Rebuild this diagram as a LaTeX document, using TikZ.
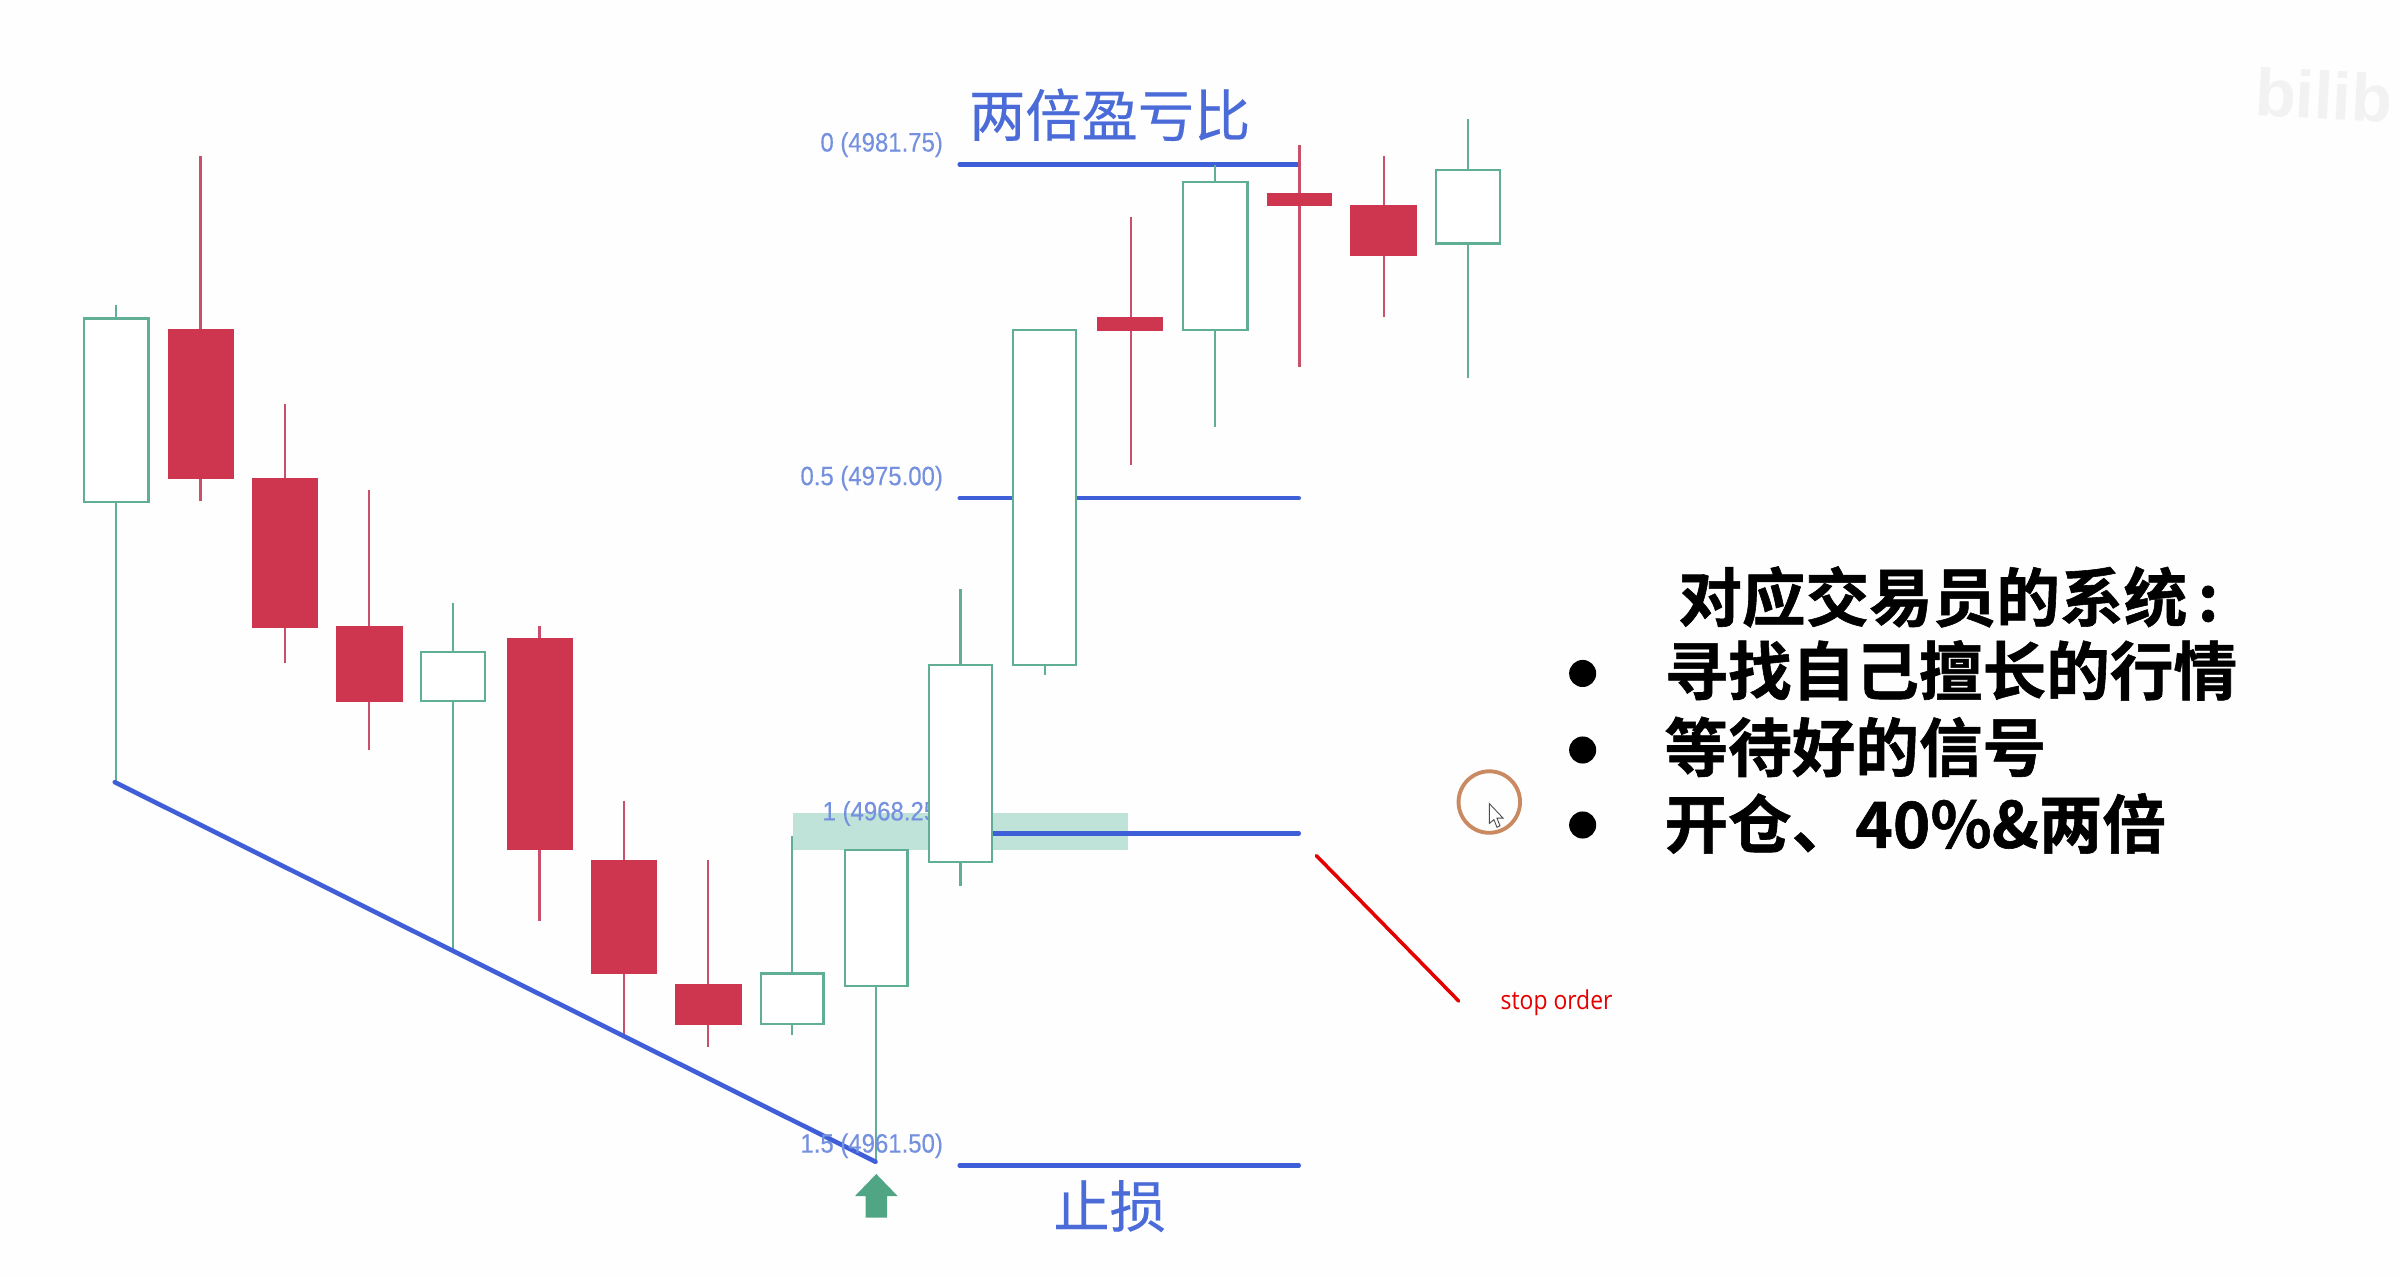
\documentclass[tikz,border=0pt]{standalone}
\usepackage{fontspec}
\setmainfont{Liberation Sans}
\newfontfamily\cjk[FakeBold=0.4]{Noto Sans CJK SC}
\newfontfamily\cjkb[FakeBold=0.9]{Noto Sans CJK SC Bold}
\newfontfamily\stopfont[FakeStretch=0.88]{Open Sans}
\newfontfamily\labfont[FakeStretch=0.9,FakeBold=0.2]{Liberation Sans}
\definecolor{upc}{HTML}{5FAE95}
\definecolor{dnc}{HTML}{CE364F}
\definecolor{wickr}{HTML}{C9506A}
\definecolor{fibblue}{HTML}{3F5FD8}
\definecolor{lab}{HTML}{7490DF}
\definecolor{zone}{HTML}{BFE3D9}
\definecolor{arrowg}{HTML}{4FA584}
\definecolor{ring}{HTML}{C98A62}
\definecolor{ttl}{HTML}{4A6BD8}
\newcommand{\upcandle}[7]{%
  \draw[wickup] (#1,#6) -- (#1,#7);
  \draw[bodyup] (#2,#4) rectangle (#3,#5);}
\newcommand{\dncandle}[7]{%
  \draw[wickdn] (#1,#6) -- (#1,#7);
  \fill[dnc] (#2,#4) rectangle (#3,#5);}
\tikzset{
  wickup/.style={upc,line width=0.62pt},
  bodyup/.style={draw=upc,fill=white,line width=0.68pt},
  wickdn/.style={wickr,line width=0.62pt},
  fibline/.style={fibblue,line width=1.3pt,line cap=round},
  fiblabel/.style={text=lab,font=\labfont\fontsize{7.57}{9}\selectfont,inner sep=0pt},
  bigtitle/.style={text=ttl,font=\cjk\fontsize{16}{18}\selectfont,inner sep=0pt},
  sysline/.style={anchor=west,text=black,font=\cjkb\fontsize{18.1}{20}\selectfont,inner sep=0pt},
  blt/.style={circle,fill=black,minimum width=7.7pt,inner sep=0pt}
}
\begin{document}
\begin{tikzpicture}[x=0.015306cm,y=-0.0153cm]
\useasboundingbox (0,0) rectangle (1568,834);
\clip (0,0) rectangle (1568,834);
\fill[white!99.6!black] (0,0) rectangle (1568,834);
% watermark
\node[anchor=west,text=black!5,font=\bfseries\fontsize{19}{20}\selectfont,inner sep=0pt,rotate=-3] (wm) at (1473,60) {bilib};
% zone
\fill[zone] (518,531) rectangle (737,555.5);
% fib lines
\coordinate (f0a) at (627,107.5); \coordinate (f0b) at (848.5,107.5);
\coordinate (f5a) at (627,325.5); \coordinate (f5b) at (848.5,325.5);
\coordinate (f1a) at (640,544.5); \coordinate (f1b) at (848.5,544.5);
\coordinate (f15a) at (627,761.5); \coordinate (f15b) at (848.5,761.5);
\draw[fibline] (f0a) -- (f0b);
\draw[fibline] (f5a) -- (f5b);
\draw[fibline] (f1a) -- (f1b);
\draw[fibline] (f15a) -- (f15b);
% labels
\node[fiblabel,anchor=east] (l0) at (616.5,94.5) {0 (4981.75)};
\node[fiblabel,anchor=east] (l5) at (616.5,312.5) {0.5 (4975.00)};
\node[fiblabel,anchor=west] (l1) at (537,531.5) {1 (4968.25)};
% candles
\upcandle{76}{55}{97}{208}{328}{199}{511}
\dncandle{131}{109.5}{153}{215}{313}{102}{327}
\dncandle{186}{164.5}{208}{312}{410}{264}{433}
\dncandle{241}{219.5}{263}{409}{458.5}{320}{490}
\upcandle{296}{275}{317}{426}{458}{394}{620}
\dncandle{352.5}{331}{374.5}{417}{555.5}{409}{602}
\dncandle{407.5}{386}{429.5}{562}{636.5}{523}{676}
\dncandle{462.5}{441}{484.5}{643}{669.5}{562}{684}
\upcandle{517.5}{497}{538}{636}{669}{546}{676}
\upcandle{572.5}{552}{593}{555.5}{644}{555}{760}
\upcandle{627.5}{607}{648}{434.5}{563}{385}{579}
\upcandle{682.5}{662}{703}{215.5}{434.5}{215}{441}
\dncandle{739}{717}{760}{207}{216}{142}{304}
\upcandle{794}{773}{815}{119}{215.5}{108}{279}
\dncandle{849}{827.5}{870.5}{126}{134.5}{95}{240}
\dncandle{904}{882}{925.5}{134}{167.5}{102}{207}
\upcandle{959}{938}{980}{111}{159}{78}{247}
% trend line
\coordinate (ta) at (75,511); \coordinate (tb) at (572,759);
\draw[fibline] (ta) -- (tb);
\node[fiblabel,anchor=east] (l15) at (616.5,748.5) {1.5 (4961.50)};
% arrow
\fill[arrowg] (572.5,767) -- (586.5,781.5) -- (579.5,781.5) -- (579.5,795.5) -- (565.5,795.5) -- (565.5,781.5) -- (558.5,781.5) -- cycle;
% titles
\node[bigtitle] (t1) at (725,75) {两倍盈亏比};
\node[bigtitle] (t2) at (725,788) {止损};
% system text
\node[sysline] (s0) at (1096,390) {对应交易员的系统\,:};
\node[sysline] (s1) at (1087,438) {寻找自己擅长的行情};
\node[sysline] (s2) at (1087,488) {等待好的信号};
\node[sysline] (s3) at (1087,538) {开仓、40\%\&两倍};
\node[blt] (b1) at (1034,440) {};
\node[blt] (b2) at (1034,490) {};
\node[blt] (b3) at (1034,539) {};
% ring and cursor
\node[circle,draw=ring,line width=1.1pt,minimum width=17.5pt,inner sep=0pt] (ring) at (973,524) {};
\draw[black!70,fill=white,line width=0.25pt] (973,525) -- (973,538) -- (976,535.5) -- (978,540.5) -- (980,539.5) -- (978,534.5) -- (982,534.5) -- cycle;
% red stop line
\coordinate (ra) at (860,559); \coordinate (rb) at (953,654);
\draw[red!90!black,line width=1pt,line cap=round] (ra) -- (rb);
\node[anchor=west,text=red!90!black,inner sep=0pt,font=\stopfont\fontsize{7.4}{9}\selectfont] (so) at (980,655) {stop order};
\end{tikzpicture}
\end{document}
